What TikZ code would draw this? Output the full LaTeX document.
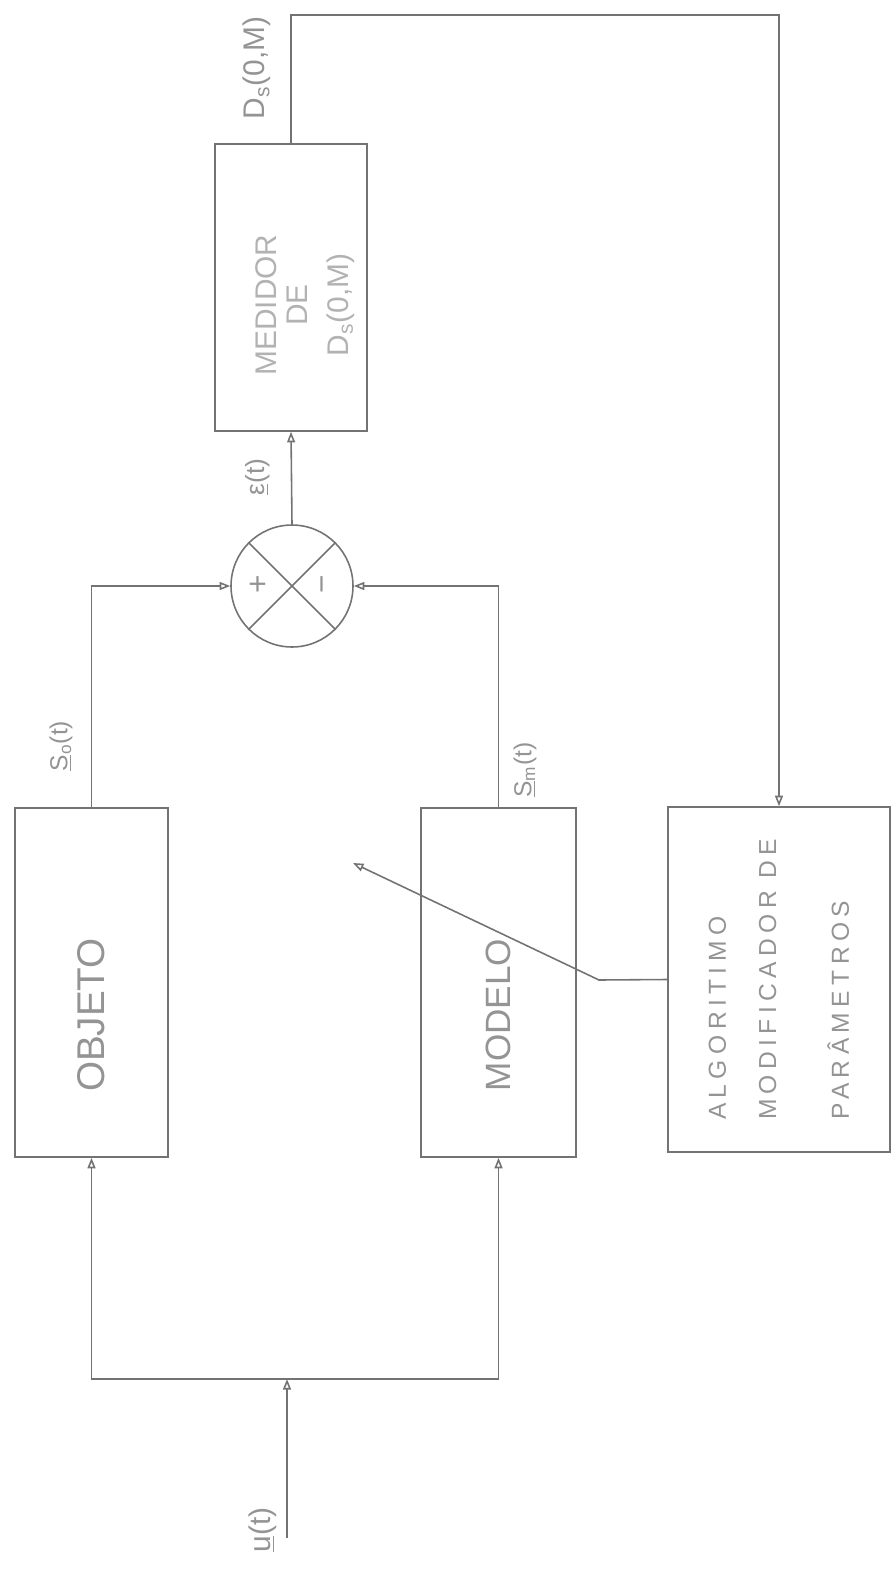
\documentclass[tikz,border=0pt]{standalone}
\usepackage{fontspec}
\setmainfont{Liberation Sans}
\usetikzlibrary{arrows.meta}
\definecolor{pencil}{gray}{0.45}
\definecolor{faint}{gray}{0.58}
\definecolor{fainter}{gray}{0.7}
\tikzset{
  blk/.style={draw=pencil, line width=0.9pt, rotate=90, text=faint, inner sep=0pt},
  sig/.style={draw=pencil, line width=0.9pt, -{Triangle[open,length=6pt,width=4.5pt]}},
  lbl/.style={rotate=90, text=faint, inner sep=0pt, font=\fontsize{14}{16}\selectfont},
}
\begin{document}
\begin{tikzpicture}[x=0.02cm, y=-0.02cm]
	\useasboundingbox (0,0) rectangle (894,1572);
	% blocos
	\node[blk, minimum width=6.98cm, minimum height=3.06cm, font=\fontsize{22}{26}\selectfont] (objeto) at (91.5,982.5) {OBJETO\hspace*{1.3cm}};
	\node[blk, minimum width=6.98cm, minimum height=3.10cm, font=\fontsize{20}{24}\selectfont] (modelo) at (498.5,982.5) {MODELO\hspace*{1.3cm}};
	\node[blk, minimum width=6.9cm, minimum height=4.44cm, align=left, font=\fontsize{14}{16}\selectfont\addfontfeatures{LetterSpace=22}] (alg) at (779,979.5) {ALGORITIMO\\[12.5pt]MODIFICADOR DE\\[25.5pt]PARÂMETROS};
	\node[blk, minimum width=5.74cm, minimum height=3.04cm] (medidor) at (291,287.5) {};
	\node[lbl, text=fainter, align=center, font=\fontsize{17}{18}\selectfont] (medtxt) at (305,305) {MEDIDOR\\DE\\[5pt]D\textsubscript{s}(0,M)};
	% somador
	\node[draw=pencil, line width=0.9pt, circle, minimum size=2.44cm, inner sep=0pt] (sum) at (292,586) {};
	\draw[pencil, line width=0.9pt] (sum.45) -- (sum.225) (sum.135) -- (sum.-45);
	\node[lbl, font=\fontsize{18}{18}\selectfont] (plus) at (259,584) {+};
	\node[lbl, font=\fontsize{18}{18}\selectfont] (minus) at (327,584) {−};
	% sinais
	\coordinate (uin) at (287,1538);
	\coordinate (split) at (287,1379);
	\coordinate (top) at (779,15);
	\coordinate (knee) at (599,980);
	\coordinate (tip) at (353,863);
	\draw[sig] (uin) -- (split);
	\draw[sig] (split) -| (objeto.west);
	\draw[sig] (split) -| (modelo.west);
	\draw[sig] (objeto.east) |- (sum.west);
	\draw[sig] (modelo.east) |- (sum.east);
	\draw[sig] (sum.north) -- (medidor.west);
	\draw[sig] (medidor.east) |- (top) -- (alg.east);
	\draw[sig] (alg.north) -- (knee) -- (tip);
	% rotulos
	\node[lbl, font=\fontsize{17}{18}\selectfont] (ulbl) at (263,1530) {\underline{u}(t)};
	\node[lbl] (solbl) at (61,746) {\underline{S}\textsubscript{o}(t)};
	\node[lbl] (smlbl) at (525,770) {\underline{S}\textsubscript{m}(t)};
	\node[lbl, font=\fontsize{15}{16}\selectfont] (elbl) at (258,477) {\underline{ε}(t)};
	\node[lbl, font=\fontsize{17}{18}\selectfont] (dslbl) at (257,68) {D\textsubscript{s}(0,M)};
\end{tikzpicture}
\end{document}
